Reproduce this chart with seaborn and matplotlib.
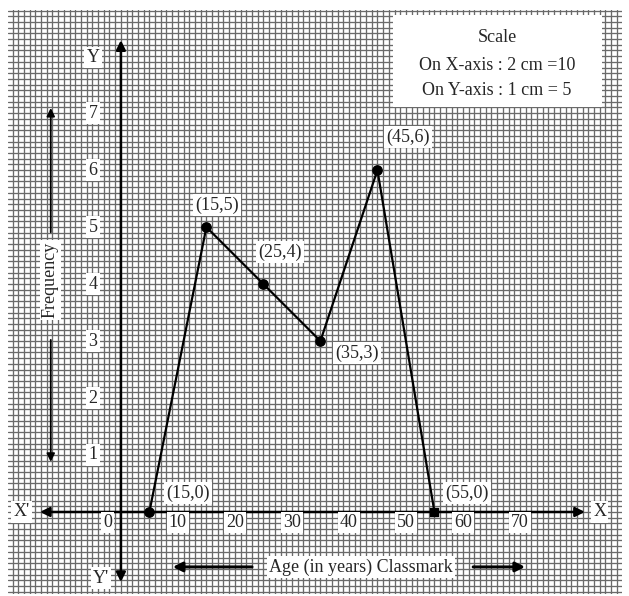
import numpy as np
import matplotlib
matplotlib.use('Agg')
import matplotlib.pyplot as plt
import seaborn as sns
from matplotlib.patches import Rectangle

# frequency polygon data (as drawn on the graph paper)
classmark = [5, 15, 25, 35, 45, 55]
frequency = [0, 5, 4, 3, 6, 0]
point_labels = ['(15,0)', '(15,5)', '(25,4)', '(35,3)', '(45,6)', '(55,0)']
x_ticks = [0, 10, 20, 30, 40, 50, 60, 70]
y_ticks = [1, 2, 3, 4, 5, 6, 7]
scale_lines = ['Scale', 'On X-axis : 2 cm =10', 'On Y-axis : 1 cm = 5']

# label offsets from each point (data units)
label_offsets = [(6.8, 0.33), (1.8, 0.39), (2.9, 0.56), (6.4, -0.21), (5.4, 0.58), (5.7, 0.33)]

sns.set_style('white')
plt.rcParams['font.family'] = ['Liberation Serif', 'DejaVu Serif']

fig = plt.figure(figsize=(6.29, 5.96), dpi=100)
ax = fig.add_axes([8/629, 2/596, 614/629, 584/596])
ax.set_xlim(-19.8, 87.9)
ax.set_ylim(-1.44, 8.81)

# graph paper
for gx in np.arange(-19, 88, 1):
    ax.axvline(gx, color='#6a6a6a', lw=0.95, zorder=0)
for gy in np.arange(-14, 89, 1) / 10:
    ax.axhline(gy, color='#6a6a6a', lw=0.95, zorder=0)
ax.set_xticks([])
ax.set_yticks([])
for s in ax.spines.values():
    s.set_visible(False)

box = dict(facecolor='white', edgecolor='none', pad=1.5)
fs = 13

# axes with arrows
arr = dict(arrowstyle='<|-|>', color='black', lw=1.8, mutation_scale=14, shrinkA=0, shrinkB=0)
ax.annotate('', xy=(-14.2, 0), xytext=(81.4, 0), arrowprops=arr, zorder=3)
ax.annotate('', xy=(0, -1.23), xytext=(0, 8.28), arrowprops=arr, zorder=3)
ax.text(-17.4, 0, "X'", fontsize=fs, ha='center', va='center', bbox=box)
ax.text(84.0, 0, 'X', fontsize=fs, ha='center', va='center', bbox=box)
ax.text(-4.9, 7.98, 'Y', fontsize=fs, ha='center', va='center', bbox=box)
ax.text(-3.5, -1.16, "Y'", fontsize=fs, ha='center', va='center', bbox=box)

for t in x_ticks:
    xpos = -2.3 if t == 0 else t
    ax.text(xpos, -0.18, str(t), fontsize=fs, ha='center', va='center', bbox=box)
for t in y_ticks:
    ax.text(-4.9, t, str(t), fontsize=fs, ha='center', va='center', bbox=box)

# axis titles with arrows
one = dict(arrowstyle='-|>', color='black', lw=1.3, mutation_scale=12, shrinkA=0, shrinkB=0)
ax.text(-12.4, 4.07, 'Frequency', fontsize=fs, rotation=90, ha='center', va='center', bbox=box)
ax.annotate('', xy=(-12.3, 7.09), xytext=(-12.3, 4.91), arrowprops=one)
ax.annotate('', xy=(-12.3, 0.88), xytext=(-12.3, 3.02), arrowprops=one)
two = dict(arrowstyle='-|>', color='black', lw=2.2, mutation_scale=14, shrinkA=0, shrinkB=0)
ax.text(42.1, -0.965, 'Age (in years) Classmark', fontsize=fs, ha='center', va='center', bbox=box)
ax.annotate('', xy=(9.1, -0.965), xytext=(23.0, -0.965), arrowprops=two)
ax.annotate('', xy=(70.9, -0.965), xytext=(61.8, -0.965), arrowprops=two)

# polygon
sns.lineplot(x=classmark, y=frequency, ax=ax, color='black', lw=1.6, zorder=4, sort=False)
ax.scatter(classmark[:-1], frequency[:-1], s=45, color='black', zorder=5)
ax.scatter(classmark[-1:], frequency[-1:], s=40, marker='s', color='black', zorder=5)
for x, y, lab, (dx, dy) in zip(classmark, frequency, point_labels, label_offsets):
    ax.text(x + dx, y + dy, lab, fontsize=fs, ha='center', va='center', bbox=box, zorder=6)

# scale box
ax.add_patch(Rectangle((47.7, 7.11), 36.7, 1.61, facecolor='white', edgecolor='none', zorder=2))
for txt, yy in zip(scale_lines, [8.32, 7.84, 7.40]):
    ax.text(66.0, yy, txt, fontsize=fs, ha='center', va='center', zorder=3)

fig.savefig('out.png', dpi=100, facecolor='white')
